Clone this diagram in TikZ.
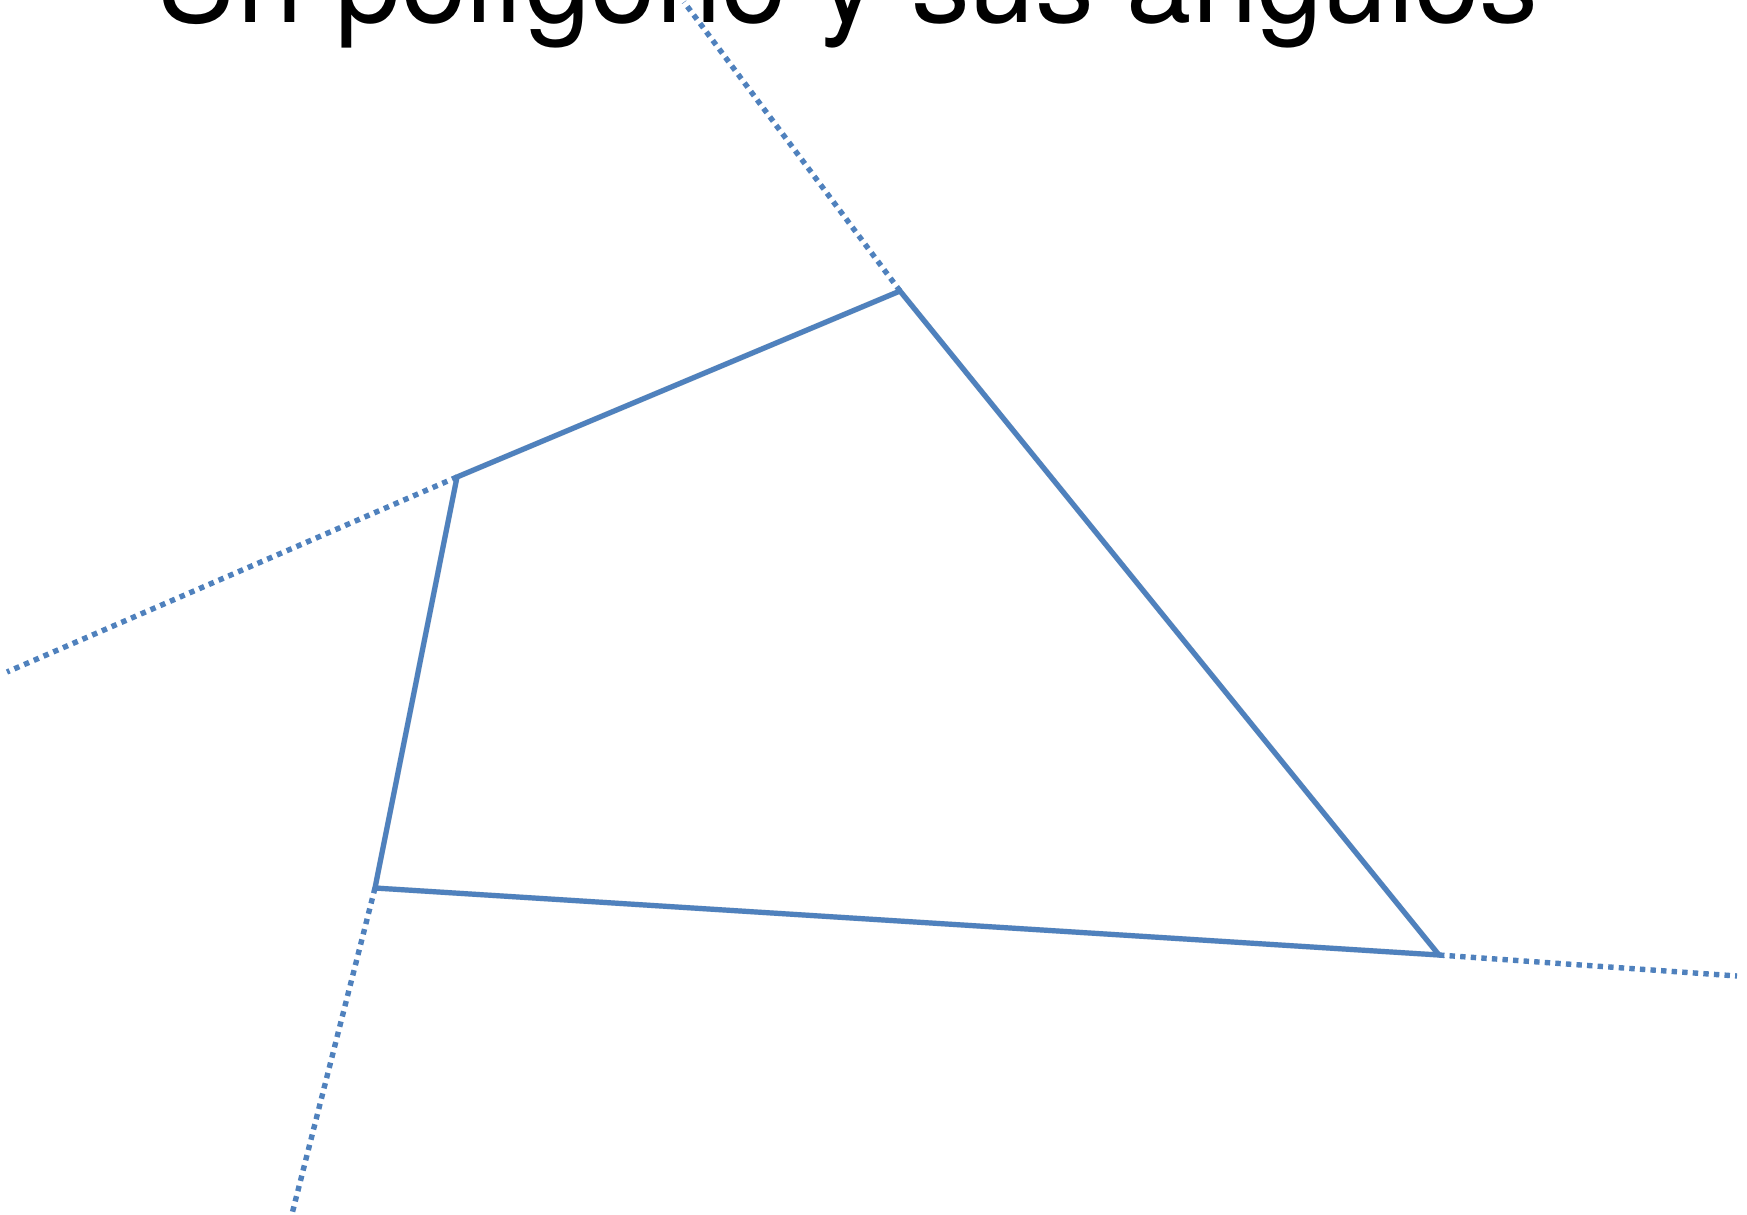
\documentclass[tikz,border=0pt]{standalone}
\usepackage{fontspec}
\setmainfont{TeX Gyre Heros}
\definecolor{officeblue}{RGB}{79,129,189}
\tikzset{
  side/.style={draw=officeblue, line width=2.6pt, line join=miter},
  ext/.style={draw=officeblue, line width=2.7pt, dash pattern=on 2.7pt off 2.6pt},
  shadowline/.style={draw=black!30, line width=2.8pt, opacity=0.35},
  title/.style={font=\fontsize{58.8}{62}\selectfont, anchor=base, inner sep=0pt}
}
\begin{document}
\begin{tikzpicture}[x=0.5pt,y=-0.5pt]
\useasboundingbox (0,0) rectangle (1747,1215);
\clip (0,0) rectangle (1747,1215);
\fill[white] (0,0) rectangle (1747,1215);
\node[title] (t) at (846,23) {Un polígono y sus ángulos};
% vertices
\coordinate (A) at (900,291);
\coordinate (B) at (457,477);
\coordinate (C) at (375,888);
\coordinate (D) at (1439,955);
% free ends of extensions
\coordinate (Ae) at (684,2);
\coordinate (Be) at (7,672);
\coordinate (Ce) at (292,1214);
\coordinate (De) at (1737,976);
% shadows
\begin{scope}[shift={(2,4)}]
\draw[shadowline] (A) -- (B) -- (C) -- (D) -- cycle;
\end{scope}
% extensions
\draw[ext] (A) -- (Ae);
\draw[ext] (B) -- (Be);
\draw[ext] (C) -- (Ce);
\draw[ext] (D) -- (De);
% polygon
\draw[side] (A) -- (B) -- (C) -- (D) -- cycle;
\end{tikzpicture}
\end{document}
